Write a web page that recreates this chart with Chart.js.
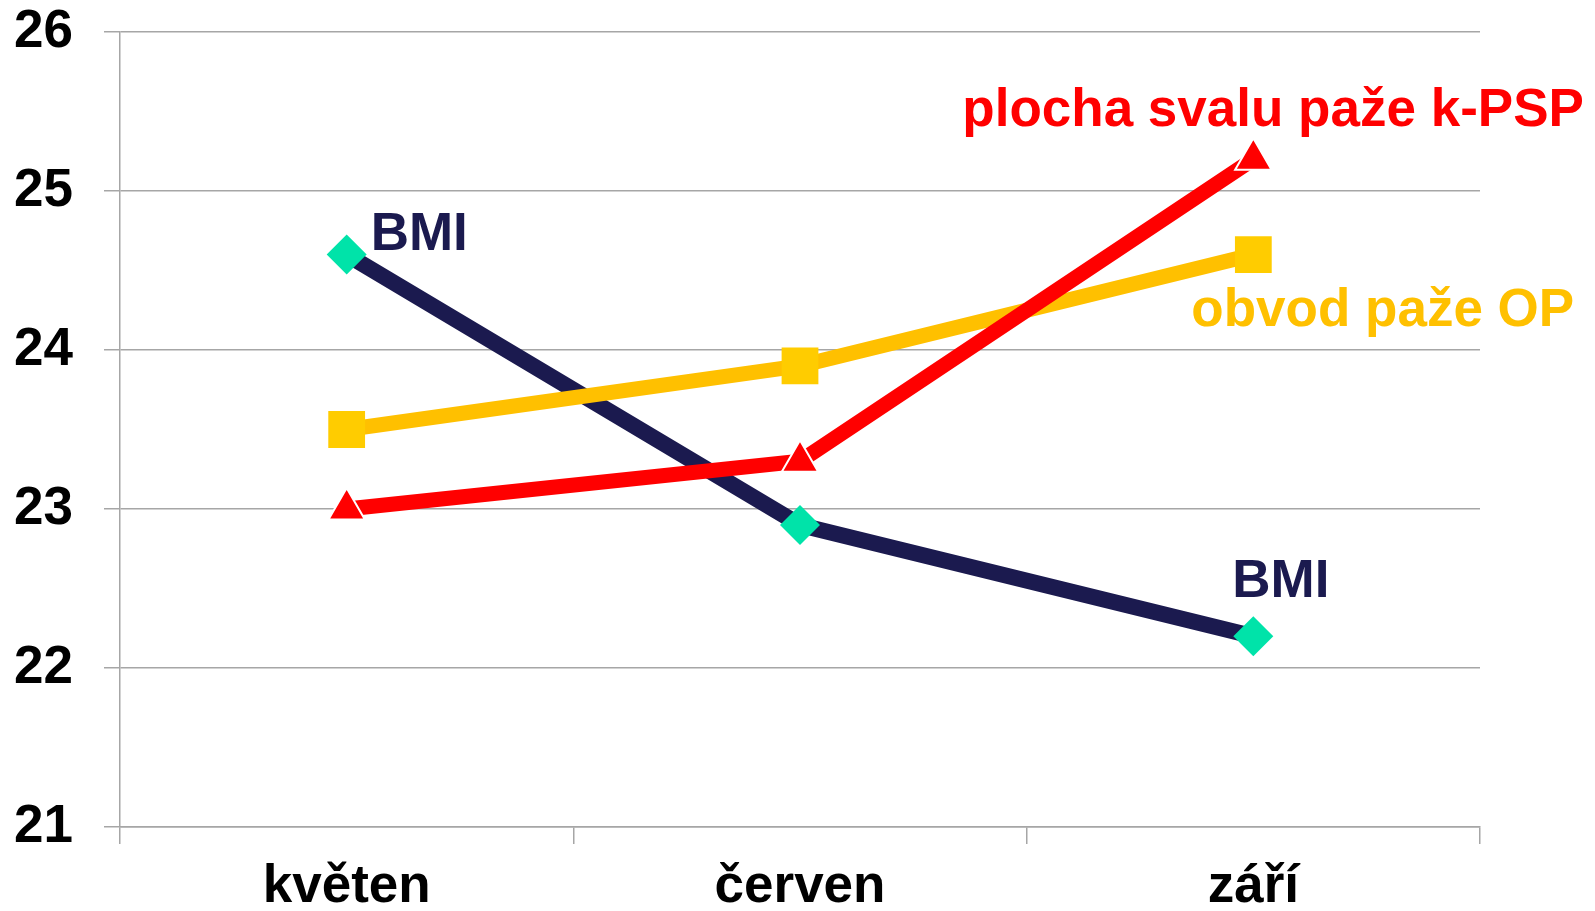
<!DOCTYPE html>
<html>
<head>
<meta charset="utf-8">
<script src="https://cdn.jsdelivr.net/npm/chart.js@4"></script>
<style>
  html, body { margin: 0; padding: 0; background: #fff; }
  #wrap { width: 1595px; height: 911px; }
</style>
</head>
<body>
<div id="wrap"><canvas id="chart"></canvas></div>
<script>
// data
var months = ['květen', 'červen', 'září'];
var bmi = [24.6, 22.9, 22.2];
var obvodPaze = [23.5, 23.9, 24.6];
var plochaSvalu = [23.0, 23.3, 25.2];
var yMin = 21, yMax = 26;

var FONT = "'Liberation Sans', Arial, sans-serif";

// text labels drawn next to points (dataset index, point index, offset in px)
var pointLabels = [
    { text: 'BMI', color: '#1b1a4f', ds: 0, idx: 0, dx: 24, dy: -5 },
    { text: 'BMI', color: '#1b1a4f', ds: 0, idx: 2, dx: -21, dy: -39 },
    { text: 'obvod paže OP', color: '#ffc000', ds: 1, idx: 2, dx: -62, dy: 71 },
    { text: 'plocha svalu paže k-PSP', color: '#ff0000', ds: 2, idx: 2, dx: -291, dy: -33 }
];

var labelPlugin = {
    id: 'pointLabels',
    afterDatasetsDraw: function(chart) {
        var ctx = chart.ctx;
        ctx.save();
        ctx.font = 'bold 53px ' + FONT;
        ctx.textAlign = 'left';
        ctx.textBaseline = 'alphabetic';
        pointLabels.forEach(function(l) {
            var pt = chart.getDatasetMeta(l.ds).data[l.idx];
            ctx.fillStyle = l.color;
            ctx.fillText(l.text, pt.x + l.dx, pt.y + l.dy);
        });
        ctx.restore();
    }
};

var ctx = document.getElementById('chart').getContext('2d');
var chart = new Chart(ctx, {
    type: 'line',
    data: {
        labels: months,
        datasets: [
            {
                label: 'BMI',
                data: bmi,
                borderColor: '#1b1a4f',
                borderWidth: 16,
                pointStyle: 'rectRot',
                pointRadius: 20,
                pointBackgroundColor: '#00e3a9',
                pointBorderWidth: 0,
                order: 2
            },
            {
                label: 'obvod paže OP',
                data: obvodPaze,
                borderColor: '#ffc000',
                borderWidth: 15,
                pointStyle: 'rect',
                pointRadius: 26,
                pointBackgroundColor: '#ffcc00',
                pointBorderWidth: 0,
                order: 1
            },
            {
                label: 'plocha svalu paže k-PSP',
                data: plochaSvalu,
                borderColor: '#ff0000',
                borderWidth: 15,
                pointStyle: 'triangle',
                pointRadius: 21,
                pointBackgroundColor: '#ff0000',
                pointBorderColor: '#ffffff',
                pointBorderWidth: 2,
                order: 0
            }
        ]
    },
    options: {
        responsive: true,
        maintainAspectRatio: false,
        animation: false,
        layout: { padding: { top: 32, right: 115, left: 0, bottom: 0 } },
        plugins: {
            legend: { display: false },
            tooltip: { enabled: false }
        },
        elements: { line: { tension: 0 } },
        scales: {
            x: {
                offset: true,
                afterFit: function(scale) { scale.height = 84; },
                grid: {
                    offset: true,
                    drawOnChartArea: false,
                    drawTicks: true,
                    tickLength: 17,
                    color: '#a6a6a6',
                    lineWidth: 1.5
                },
                border: { display: true, color: '#a6a6a6', width: 1.5 },
                ticks: {
                    color: '#000',
                    padding: 12,
                    maxRotation: 0,
                    font: { family: FONT, size: 53, weight: 'bold' }
                }
            },
            y: {
                min: yMin,
                max: yMax,
                afterFit: function(scale) {
                    scale.width = 120;
                    // tick padding would otherwise push the plot down
                    scale.paddingTop = 0;
                    scale.paddingBottom = 0;
                },
                grid: {
                    color: '#a6a6a6',
                    lineWidth: 1.5,
                    drawTicks: true,
                    tickLength: 16
                },
                border: { display: true, color: '#a6a6a6', width: 1.5 },
                ticks: {
                    stepSize: 1,
                    color: '#000',
                    padding: 31,
                    font: { family: FONT, size: 53, weight: 'bold' }
                }
            }
        }
    },
    plugins: [labelPlugin]
});
</script>
</body>
</html>
